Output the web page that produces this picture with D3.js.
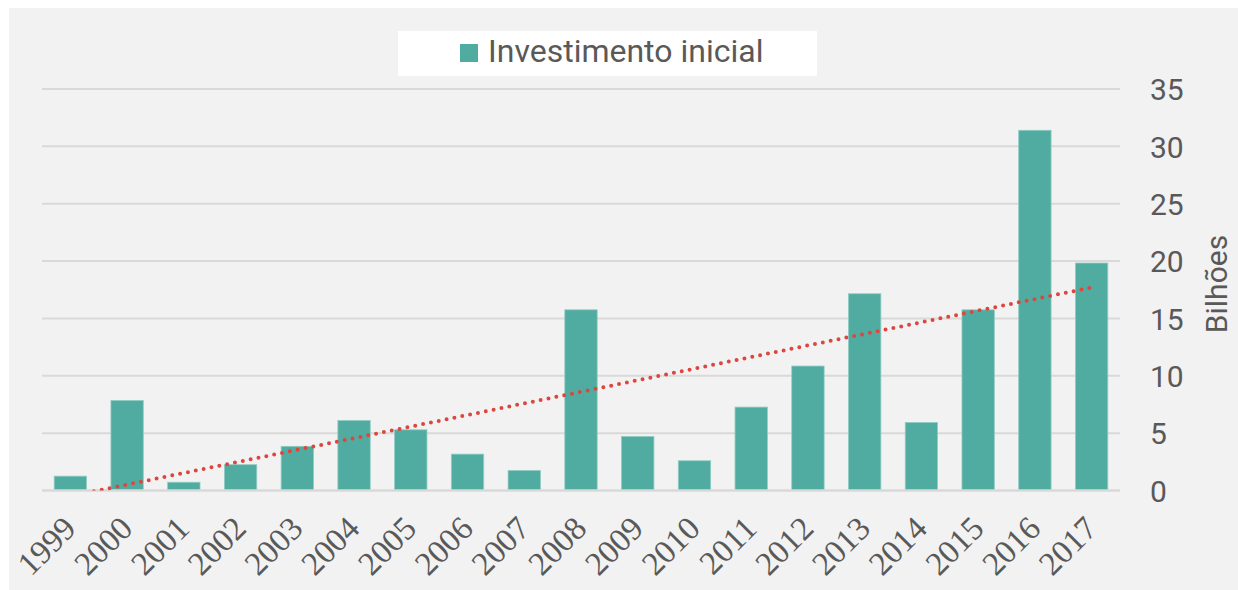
<!DOCTYPE html>
<html>
<head>
<meta charset="utf-8">
<script src="https://cdn.jsdelivr.net/npm/d3@7"></script>
<style>
  body { margin: 0; background: #ffffff; }
  svg { display: block; }
</style>
</head>
<body>
<div id="chart"></div>
<script>
let years = ['1999', '2000', '2001', '2002', '2003', '2004', '2005', '2006', '2007', '2008',
    '2009', '2010', '2011', '2012', '2013', '2014', '2015', '2016', '2017'];
let investimento = [1.25, 7.85, 0.72, 2.25, 3.85, 6.1, 5.29, 3.17, 1.74, 15.75,
    4.71, 2.59, 7.27, 10.85, 17.15, 5.93, 15.75, 31.4, 19.83];
let yTicks = [0, 5, 10, 15, 20, 25, 30, 35];
let seriesName = 'Investimento inicial';
let axisTitle = 'Bilhões';

let width = 1238, height = 590;
let margin = {left: 42, right: 118, top: 89, bottom: 99.5};

window.onload = function () {
    let svg = d3.select('#chart').append('svg')
        .attr('width', width)
        .attr('height', height);

    // grey chart area
    svg.append('rect')
        .attr('x', 9).attr('y', 8)
        .attr('width', width - 9).attr('height', height - 8)
        .attr('fill', '#f2f2f2');

    let x = d3.scaleBand()
        .domain(years)
        .range([margin.left, width - margin.right])
        .paddingInner(0.43)
        .paddingOuter(0.215);

    let y = d3.scaleLinear()
        .domain([0, 35])
        .range([height - margin.bottom, margin.top]);

    // gridlines
    svg.append('g')
        .selectAll('line')
        .data(yTicks.filter(t => t > 0))
        .enter()
        .append('line')
        .attr('x1', margin.left)
        .attr('x2', width - margin.right)
        .attr('y1', d => y(d))
        .attr('y2', d => y(d))
        .attr('stroke', '#d9d9d9')
        .attr('stroke-width', 2);

    // bars
    svg.append('g')
        .selectAll('rect')
        .data(investimento)
        .enter()
        .append('rect')
        .attr('x', (d, i) => x(years[i]))
        .attr('width', x.bandwidth())
        .attr('y', d => y(d))
        .attr('height', d => y(0) - y(d))
        .attr('fill', '#50aba0')
        .attr('stroke', '#8fcbc3')
        .attr('stroke-width', 0.8);

    // x axis line
    svg.append('line')
        .attr('x1', margin.left)
        .attr('x2', width - margin.right)
        .attr('y1', y(0))
        .attr('y2', y(0))
        .attr('stroke', '#d9d9d9')
        .attr('stroke-width', 2.5);

    // linear trendline (least squares over the bars)
    let n = investimento.length;
    let meanX = (n - 1) / 2;
    let meanY = d3.mean(investimento);
    let sxy = d3.sum(investimento, (v, i) => (i - meanX) * (v - meanY));
    let sxx = d3.sum(investimento, (v, i) => (i - meanX) * (i - meanX));
    let slope = sxy / sxx;
    let icept = meanY - slope * meanX;
    let trend = years.map((yr, i) => [x(yr) + x.bandwidth() / 2, icept + slope * i]);

    svg.append('clipPath').attr('id', 'plotclip')
        .append('rect')
        .attr('x', margin.left).attr('y', margin.top - 5)
        .attr('width', width - margin.left - margin.right)
        .attr('height', y(0) - margin.top + 5);

    svg.append('path')
        .datum(trend)
        .attr('clip-path', 'url(#plotclip)')
        .attr('d', d3.line().x(d => d[0]).y(d => y(d[1])))
        .attr('fill', 'none')
        .attr('stroke', '#dc463f')
        .attr('stroke-width', 4)
        .attr('stroke-linecap', 'round')
        .attr('stroke-dasharray', '0,8');

    // right axis labels
    let yAxis = d3.axisRight(y).tickValues(yTicks).tickSize(0).tickPadding(30);
    let ga = svg.append('g')
        .attr('transform', 'translate(' + (width - margin.right) + ',0)')
        .call(yAxis);
    ga.select('.domain').remove();
    ga.selectAll('text')
        .attr('fill', '#595959')
        .style('font-family', 'Roboto, sans-serif')
        .style('font-size', '30px')
        .attr('dy', '0.36em');

    // axis title
    svg.append('text')
        .attr('transform', 'translate(1227,' + 284 + ') rotate(-90)')
        .attr('text-anchor', 'middle')
        .attr('fill', '#595959')
        .style('font-family', 'Roboto, sans-serif')
        .style('font-size', '30px')
        .text(axisTitle);

    // x labels, rotated
    svg.append('g')
        .selectAll('text')
        .data(years)
        .enter()
        .append('text')
        .attr('transform', d => 'translate(' + (x(d) + x.bandwidth() / 2 - 8) + ',515) rotate(-45)')
        .attr('text-anchor', 'end')
        .attr('dy', '0.66em')
        .attr('fill', '#595959')
        .style('font-family', '"Liberation Serif", "Times New Roman", serif')
        .style('font-size', '33px')
        .text(d => d);

    // legend
    let lg = svg.append('g');
    lg.append('rect')
        .attr('x', 398).attr('y', 31)
        .attr('width', 419).attr('height', 45)
        .attr('fill', '#ffffff');
    lg.append('rect')
        .attr('x', 460).attr('y', 44)
        .attr('width', 18).attr('height', 18)
        .attr('fill', '#50aba0');
    lg.append('text')
        .attr('x', 488).attr('y', 62)
        .attr('fill', '#595959')
        .style('font-family', 'Roboto, sans-serif')
        .style('font-size', '32px')
        .text(seriesName);
};
</script>
</body>
</html>
